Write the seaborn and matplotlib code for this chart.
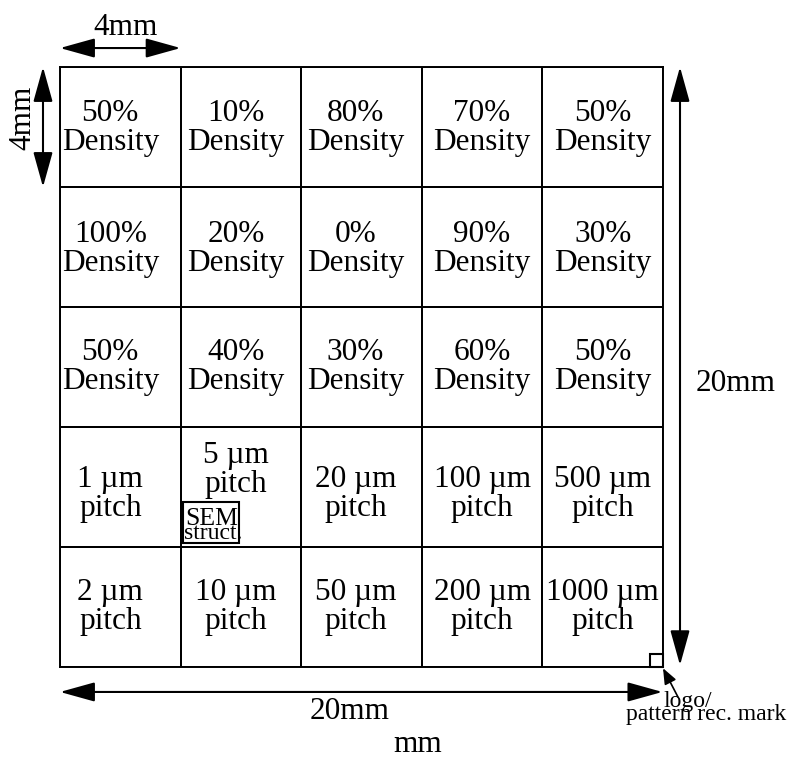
import numpy as np
import matplotlib
matplotlib.use("Agg")
import matplotlib.pyplot as plt
from matplotlib.colors import ListedColormap
from matplotlib.patches import Rectangle
import seaborn as sns

# ---- data ----
row0 = ["50%\nDensity", "10%\nDensity", "80%\nDensity", "70%\nDensity", "50%\nDensity"]
row1 = ["100%\nDensity", "20%\nDensity", "0%\nDensity", "90%\nDensity", "30%\nDensity"]
row2 = ["50%\nDensity", "40%\nDensity", "30%\nDensity", "60%\nDensity", "50%\nDensity"]
row3 = ["1 \u00b5m\npitch", "5 \u00b5m\npitch", "20 \u00b5m\npitch", "100 \u00b5m\npitch", "500 \u00b5m\npitch"]
row4 = ["2 \u00b5m\npitch", "10 \u00b5m\npitch", "50 \u00b5m\npitch", "200 \u00b5m\npitch", "1000 \u00b5m\npitch"]
cell_labels = [row0, row1, row2, row3, row4]
chip_size_label = "20mm"
cell_size_label = "4mm"
axis_unit_label = "mm"
sem_label = "SEM"
sem_label2 = "struct."
logo_label = "logo/"
logo_label2 = "pattern rec. mark"

sns.set_theme(style="white")
plt.rcParams['font.family'] = ['Liberation Serif', 'DejaVu Serif']
plt.rcParams['text.color'] = 'black'

fig = plt.figure(figsize=(7.89, 7.59), dpi=100)
ax = fig.add_axes([60/789, 1-667/759, 603/789, 600/759])

grid = np.zeros((len(cell_labels), len(cell_labels[0])))
sns.heatmap(grid, ax=ax, cmap=ListedColormap(['white']), cbar=False,
            linewidths=1.4, linecolor='black', xticklabels=False,
            yticklabels=False)
for s in ax.spines.values():
    s.set_visible(True)
    s.set_linewidth(1.4)
    s.set_color('black')

FS = 22.5
K = 'black'
# small layout nudges (pixels -> cell units)
col_dx = [-10, -5, -6, 0, 0]
row_dy = [1, 2, 0, 7, 0]
for r, row in enumerate(cell_labels):
    for c, lab in enumerate(row):
        dx = col_dx[c] / 120.6
        dy = row_dy[r] / 120
        if r == 3 and c == 1:
            dy = -17 / 120
        ax.text(c + 0.5 + dx, r + 0.5 + dy, lab, ha='center', va='center',
                fontsize=FS, linespacing=1.02, color=K)

# SEM structure box
ax.add_patch(Rectangle((1.02, 3.625), 0.465, 0.342, fill=False, lw=1.5,
                       edgecolor=K, clip_on=False))
ax.text(1.036, 3.815, sem_label, ha='left', va='baseline', fontsize=18.5, color=K)
ax.text(1.025, 3.933, sem_label2, ha='left', va='baseline', fontsize=17, color=K)

# dimension arrows
big = dict(arrowstyle='<|-|>,head_length=2.16,head_width=0.6', lw=1.5,
           color=K, shrinkA=0, shrinkB=0, mutation_scale=10)
ax.annotate('', xy=(1.0, -0.158), xytext=(0.0, -0.158), arrowprops=big,
            annotation_clip=False)
ax.annotate('', xy=(-0.141, 1.0), xytext=(-0.141, 0.0), arrowprops=big,
            annotation_clip=False)
ax.annotate('', xy=(5.141, 4.985), xytext=(5.141, 0.0), arrowprops=big,
            annotation_clip=False)
ax.annotate('', xy=(4.995, 5.208), xytext=(0.0, 5.208), arrowprops=big,
            annotation_clip=False)

ax.text(0.547, -0.267, cell_size_label, ha='center', va='baseline', fontsize=FS, color=K)
ax.text(-0.311, 0.423, cell_size_label, ha='center', va='center', fontsize=FS,
        rotation=90, color=K)
ax.text(5.605, 2.70, chip_size_label, ha='center', va='baseline', fontsize=FS, color=K)
ax.text(2.405, 5.433, chip_size_label, ha='center', va='baseline', fontsize=FS, color=K)
ax.text(2.968, 5.708, axis_unit_label, ha='center', va='baseline', fontsize=FS, color=K)

# logo mark
ax.add_patch(Rectangle((4.892, 4.892), 0.108, 0.108, fill=False, lw=1.5,
                       edgecolor=K, clip_on=False))
small = dict(arrowstyle='-|>,head_length=0.95,head_width=0.38', lw=1.2,
             color=K, shrinkA=0, shrinkB=0, mutation_scale=10)
ax.annotate('', xy=(5.0, 5.01), xytext=(5.124, 5.25), arrowprops=small,
            annotation_clip=False)
ax.text(5.0, 5.333, logo_label, ha='left', va='baseline', fontsize=17, color=K)
ax.text(4.693, 5.442, logo_label2, ha='left', va='baseline', fontsize=17, color=K)

fig.savefig("out.png", dpi=100)
